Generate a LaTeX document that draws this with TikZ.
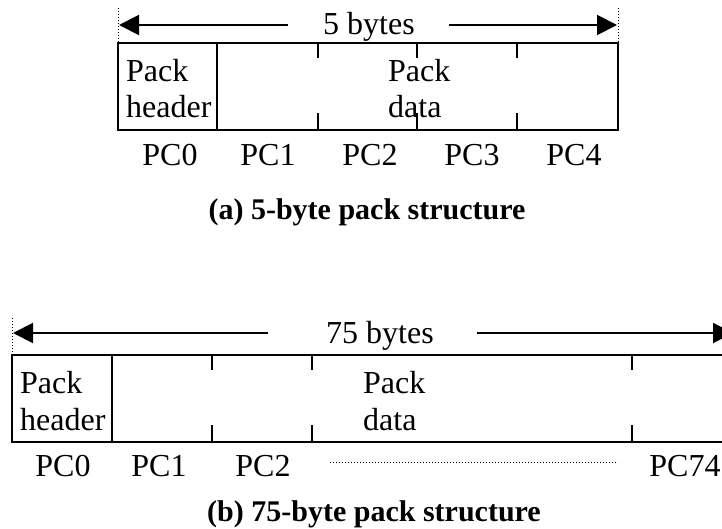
\documentclass[tikz,border=0pt]{standalone}
\usepackage{fontspec}
\setmainfont{Liberation Serif}
\usetikzlibrary{arrows.meta}
\begin{document}
\begin{tikzpicture}[x=1pt,y=-1pt,
  boxline/.style={line width=2pt},
  tickline/.style={line width=1.8pt},
  lbl/.style={font=\fontsize{32}{36}\selectfont, inner sep=0pt, anchor=base},
  lblw/.style={font=\fontsize{32}{36}\selectfont, inner sep=0pt, anchor=base west},
  capt/.style={font=\fontsize{30}{36}\selectfont\bfseries, inner sep=0pt, anchor=base},
  dimarrow/.style={line width=2pt, -{Triangle[length=20pt,width=20pt]}},
  guide/.style={line width=1pt, dotted}]
\useasboundingbox (0,0) rectangle (722,529);
\clip (0,0) rectangle (722,529);

% ---------- (a) ----------
\coordinate (aTL) at (118,43);
\coordinate (aBR) at (618,130);
\draw[boxline] (aTL) rectangle (aBR);
\draw[boxline] (217,43) -- (217,130);
\foreach \x in {318,417,517}{
  \draw[tickline] (\x,43) -- (\x,58);
  \draw[tickline] (\x,113) -- (\x,130);
}
\draw[guide] (118,8) -- (aTL);
\draw[guide] (618,8) -- (618,43);
\node[lbl] (a5) at (369,35) {5 bytes};
\coordinate (aLs) at (288,25);
\coordinate (aLe) at (119,25);
\coordinate (aRs) at (449,25);
\coordinate (aRe) at (617,25);
\draw[dimarrow] (aLs) -- (aLe);
\draw[dimarrow] (aRs) -- (aRe);
\node[lblw] (ah1) at (126,82) {Pack};
\node[lblw] (ah2) at (126,118) {header};
\node[lblw] (ad1) at (388,82) {Pack};
\node[lblw] (ad2) at (388,118) {data};
\node[lbl] (apc0) at (170,166) {PC0};
\node[lbl] (apc1) at (268,166) {PC1};
\node[lbl] (apc2) at (370,166) {PC2};
\node[lbl] (apc3) at (472,166) {PC3};
\node[lbl] (apc4) at (574,166) {PC4};
\node[capt] (acap) at (367,220) {(a) 5-byte pack structure};

% ---------- (b) ----------
\coordinate (bTL) at (12,355);
\coordinate (bBR) at (734,442);
\draw[boxline] (bTL) rectangle (bBR);
\draw[boxline] (112,355) -- (112,442);
\foreach \x in {212,312,632}{
  \draw[tickline] (\x,355) -- (\x,370);
  \draw[tickline] (\x,425) -- (\x,442);
}
\draw[guide] (12,318) -- (bTL);
\node[lbl] (b75) at (380,343) {75 bytes};
\coordinate (bLs) at (268,333);
\coordinate (bLe) at (13,333);
\coordinate (bRs) at (477,333);
\coordinate (bRe) at (733,333);
\draw[dimarrow] (bLs) -- (bLe);
\draw[dimarrow] (bRs) -- (bRe);
\node[lblw] (bh1) at (20,393) {Pack};
\node[lblw] (bh2) at (20,430) {header};
\node[lblw] (bd1) at (363,393) {Pack};
\node[lblw] (bd2) at (363,430) {data};
\node[lbl] (bpc0) at (63,476) {PC0};
\node[lbl] (bpc1) at (159,476) {PC1};
\node[lbl] (bpc2) at (263,476) {PC2};
\node[lbl] (bpc74) at (685,476) {PC74};
\coordinate (bdots1) at (330,462);
\coordinate (bdots2) at (618,462);
\draw[guide, line width=0.8pt] (bdots1) -- (bdots2);
\node[capt] (bcap) at (374,521) {(b) 75-byte pack structure};
\end{tikzpicture}
\end{document}
